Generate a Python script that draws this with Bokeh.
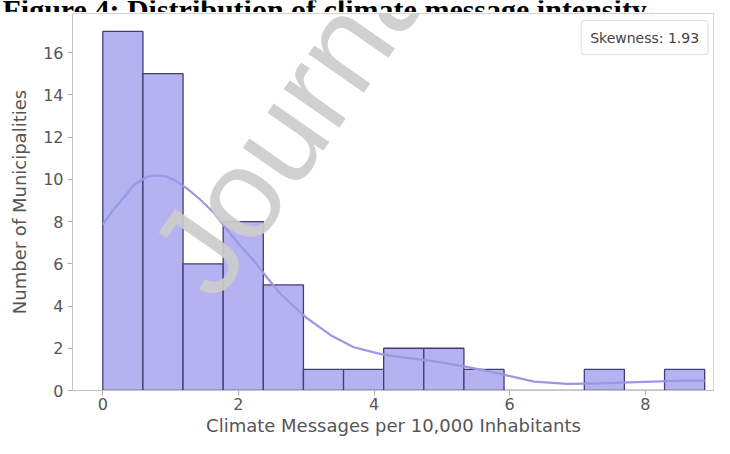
import numpy as np
from bokeh.plotting import figure
from bokeh.layouts import column
from bokeh.models import Label, Range1d, FixedTicker, ColumnDataSource
from bokeh.embed import file_html
from bokeh.resources import INLINE

# ---- data ----
counts = [17, 15, 6, 8, 5, 1, 1, 2, 2, 1, 0, 0, 1, 0, 1]
data_min = 0.0
data_max = 8.875
kde_x = [0.0, 0.13, 0.26, 0.46, 0.65, 0.80, 0.92, 1.05, 1.24, 1.44, 1.64, 1.83, 2.03,
         2.23, 2.42, 2.62, 2.82, 3.0, 3.36, 3.70, 4.10, 4.40, 4.73, 5.03, 5.33, 5.62,
         5.91, 6.36, 6.85, 7.34, 7.98, 8.57, 8.875]
kde_y = [7.85, 8.45, 8.95, 9.73, 10.12, 10.18, 10.15, 9.98, 9.57, 9.03, 8.40, 7.62, 6.84,
         6.14, 5.35, 4.58, 3.98, 3.45, 2.62, 2.05, 1.72, 1.58, 1.45, 1.31, 1.14, 0.95,
         0.75, 0.42, 0.31, 0.34, 0.41, 0.47, 0.47]
x_ticks = [0, 2, 4, 6, 8]
y_ticks = [0, 2, 4, 6, 8, 10, 12, 14, 16]
skewness = 1.93
title_text = "Figure 4: Distribution of climate message intensity"
watermark_text = "Journal Pre-proof"

# ---- strip with the page title, cut by the top edge as in the reference ----
t = figure(width=714, height=12, output_backend="svg", toolbar_location=None,
           x_range=Range1d(0, 714), y_range=Range1d(0, 12),
           min_border_left=0, min_border_right=0, min_border_top=0, min_border_bottom=0)
t.axis.visible = False
t.grid.visible = False
t.outline_line_color = None
t.add_layout(Label(x=2, y=3, text=title_text,
                   text_font="Liberation Serif", text_font_style="bold",
                   text_font_size="30px", text_color="black",
                   text_align="left", text_baseline="alphabetic"))

# ---- histogram ----
edges = np.linspace(data_min, data_max, len(counts) + 1)
src = ColumnDataSource(dict(left=edges[:-1], right=edges[1:], top=counts,
                            bottom=[0] * len(counts)))

p = figure(width=714, height=426, output_backend="svg", toolbar_location=None,
           x_range=Range1d(-0.447, 9.02), y_range=Range1d(0, 17.85),
           min_border_left=72, min_border_right=0, min_border_top=1,
           min_border_bottom=47)

try:
    t.frame_align = False
    p.frame_align = False
except AttributeError:
    pass

p.quad(left="left", right="right", top="top", bottom="bottom", source=src,
       fill_color="#b4b2f0", line_color="#403f74", line_width=1.3)
p.line(kde_x, kde_y, line_color="#9a97e4", line_width=2.2)

p.xgrid.visible = False
p.ygrid.visible = False
p.outline_line_color = "#d4d4d4"
p.background_fill_color = "white"
p.border_fill_color = "white"

for ax in (p.xaxis[0], p.yaxis[0]):
    ax.axis_line_color = "#c4c4c4"
    ax.major_tick_line_color = "#b0b0b0"
    ax.major_tick_out = 5
    ax.major_tick_in = 0
    ax.minor_tick_line_color = None
    ax.major_label_text_font = "DejaVu Sans"
    ax.major_label_text_font_size = "16px"
    ax.major_label_text_color = "#555555"
    ax.axis_label_text_font = "DejaVu Sans"
    ax.axis_label_text_font_size = "18px"
    ax.axis_label_text_font_style = "normal"
    ax.axis_label_text_color = "#555555"

p.xaxis.ticker = FixedTicker(ticks=x_ticks)
p.yaxis.ticker = FixedTicker(ticks=y_ticks)
p.xaxis.axis_label = "Climate Messages per 10,000 Inhabitants"
p.yaxis.axis_label = "Number of Municipalities"
p.xaxis.major_label_standoff = 2
p.xaxis.axis_label_standoff = 2
p.yaxis.major_label_standoff = 4
p.yaxis.axis_label_standoff = 10

p.add_layout(Label(x=7.99, y=16.71, text=f"Skewness: {skewness:.2f}",
                   text_align="center", text_baseline="middle",
                   text_font="DejaVu Sans", text_font_size="14px",
                   text_color="#444444", background_fill_color="white",
                   border_line_color="#dddddd", border_line_width=1,
                   padding=9, border_radius=3))

p.add_layout(Label(x=1.13, y=5.3, text=watermark_text, angle=55, angle_units="deg",
                   text_font="Liberation Sans", text_font_size="128px",
                   text_color="#cccccc", text_alpha=0.92,
                   text_align="left", text_baseline="alphabetic"))

layout = column(t, p, spacing=0)
open("out.html", "w").write(file_html(layout, INLINE))
